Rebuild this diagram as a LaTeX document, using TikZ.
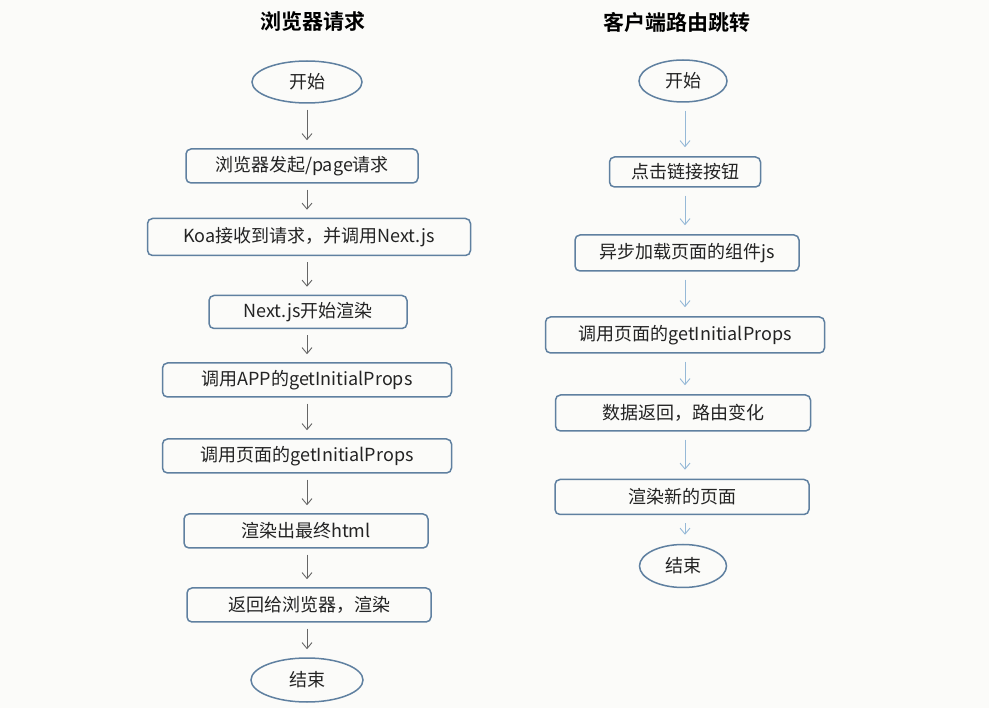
\documentclass[tikz,border=0pt]{standalone}
\usepackage{fontspec}
\setmainfont{Noto Sans CJK SC}[BoldFont=Noto Sans CJK SC Bold]
\usepackage{tikz}
\usetikzlibrary{calc,shapes.geometric,arrows.meta}
\definecolor{boxblue}{RGB}{95,128,160}
\definecolor{txtgray}{RGB}{35,35,35}
\definecolor{lightarr}{RGB}{150,185,215}
\definecolor{bggray}{RGB}{251,251,249}

\begin{document}
\begin{tikzpicture}[x=1pt,y=-1pt,
        box/.style={draw=boxblue,line width=1.5pt,rounded corners=5pt,text=txtgray,
            font=\fontsize{18}{21}\selectfont,inner sep=0pt},
        oval/.style={ellipse,draw=boxblue,line width=1.5pt,text=txtgray,
            font=\fontsize{18}{21}\selectfont,inner sep=0pt},
        title/.style={text=black,font=\bfseries\fontsize{21}{25}\selectfont},
        larrow/.style={draw=black!60,line width=0.9pt,-{Straight Barb[length=6pt,width=10pt]},
            shorten <=6pt,shorten >=8pt},
        rarrow/.style={draw=lightarr,line width=0.9pt,-{Straight Barb[length=6pt,width=10pt]},
            shorten <=8pt,shorten >=9pt}]
        \fill[bggray] (0,0) rectangle (989,708);
        \useasboundingbox (0,0) rectangle (989,708);

        % browser request
        \node[title] (t1) at (313,22) {浏览器请求};
        \node[oval,minimum width=110pt,minimum height=42pt] (s1) at (307,82) {开始};
        \node[box,minimum width=232pt,minimum height=34pt] (a1) at (302,166) {浏览器发起/page请求};
        \node[box,minimum width=323pt,minimum height=37pt] (a2) at (309,237) {Koa接收到请求，并调用Next.js};
        \node[box,minimum width=198pt,minimum height=33pt] (a3) at (308,312) {Next.js开始渲染};
        \node[box,minimum width=289pt,minimum height=34pt] (a4) at (307,380) {调用APP的getInitialProps};
        \node[box,minimum width=289pt,minimum height=34pt] (a5) at (307,456) {调用页面的getInitialProps};
        \node[box,minimum width=244pt,minimum height=34pt] (a6) at (306,531) {渲染出最终html};
        \node[box,minimum width=244pt,minimum height=34pt] (a7) at (309,605) {返回给浏览器，渲染};
        \node[oval,minimum width=112pt,minimum height=44pt] (e1) at (307,680) {结束};
        \foreach \a/\b in {s1/a1,a1/a2,a2/a3,a3/a4,a4/a5,a5/a6,a6/a7,a7/e1}
        \draw[larrow] (s1.south |- \a.south) -- (s1.south |- \b.north);

        % client route
        \node[title] (t2) at (677,22) {客户端路由跳转};
        \node[oval,minimum width=88pt,minimum height=42pt] (s2) at (683,81) {开始};
        \node[box,minimum width=151pt,minimum height=30pt] (b1) at (685,172) {点击链接按钮};
        \node[box,minimum width=224pt,minimum height=36pt] (b2) at (687,253) {异步加载页面的组件js};
        \node[box,minimum width=279pt,minimum height=36pt] (b3) at (685,335) {调用页面的getInitialProps};
        \node[box,minimum width=255pt,minimum height=36pt] (b4) at (683,413) {数据返回，路由变化};
        \node[box,minimum width=254pt,minimum height=35pt] (b5) at (682,497) {渲染新的页面};
        \node[oval,minimum width=87pt,minimum height=43pt] (e2) at (683,566) {结束};
        \foreach \a/\b in {s2/b1,b1/b2,b2/b3,b3/b4,b4/b5,b5/e2}
        \draw[rarrow] (b1.south |- \a.south) -- (b1.south |- \b.north);
    \end{tikzpicture}
\end{document}
